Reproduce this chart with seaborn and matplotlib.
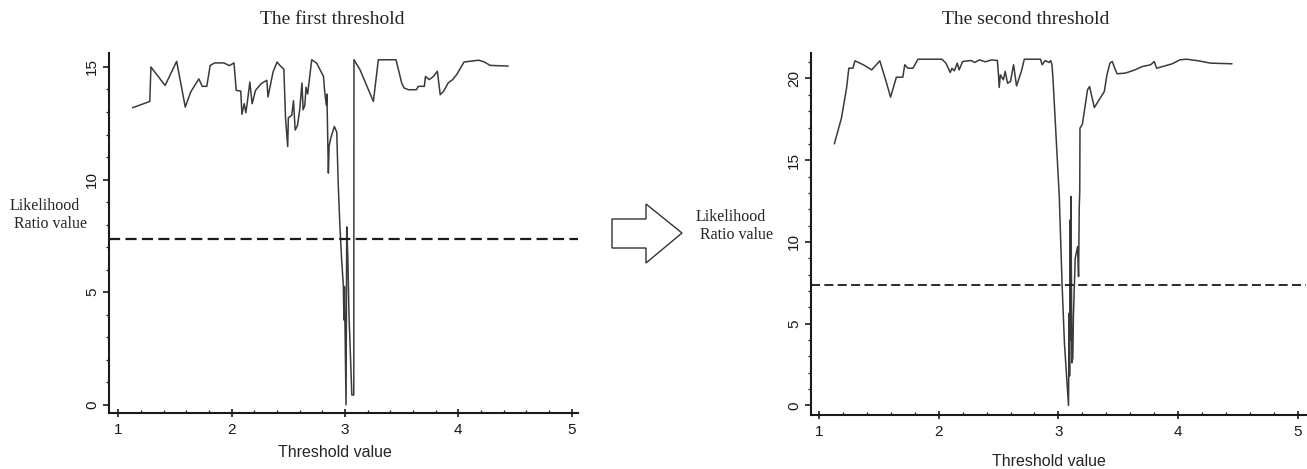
import matplotlib
matplotlib.use("Agg")
import matplotlib.pyplot as plt
from matplotlib.patches import Polygon
from matplotlib.ticker import MultipleLocator
import pandas as pd
import seaborn as sns

# --- data ---
first_x = [1.125, 1.277, 1.287, 1.412, 1.514, 1.59, 1.638, 1.71, 1.74, 1.78, 1.81, 1.85, 1.93,
           1.98, 2.02, 2.04, 2.08, 2.09, 2.11, 2.125, 2.14, 2.16, 2.18, 2.21, 2.26, 2.31, 2.32,
           2.365, 2.40, 2.425, 2.46, 2.475, 2.494, 2.50, 2.53, 2.545, 2.56, 2.58, 2.60, 2.62,
           2.63, 2.645, 2.656, 2.67, 2.706, 2.75, 2.81, 2.82, 2.835, 2.84, 2.853, 2.86, 2.874,
           2.906, 2.927, 2.94, 2.955, 2.97, 2.985, 2.99, 2.995, 3.009, 3.015, 3.025, 3.035,
           3.06, 3.077, 3.079, 3.132, 3.25, 3.294, 3.45, 3.50, 3.52, 3.56, 3.63, 3.647, 3.70,
           3.71, 3.744, 3.78, 3.815, 3.84, 3.87, 3.91, 3.95, 3.985, 4.05, 4.18, 4.23, 4.28, 4.44]
first_lr = [13.19, 13.47, 15.0, 14.18, 15.25, 13.22, 13.89, 14.47, 14.14, 14.14, 15.07, 15.18, 15.18,
            15.06, 15.18, 13.96, 13.93, 12.9, 13.37, 12.97, 13.52, 14.33, 13.37, 13.96, 14.26, 14.41, 13.67,
            14.78, 15.22, 15.07, 14.9, 12.73, 11.47, 12.75, 12.85, 13.5, 12.2, 12.4, 13.1, 14.29,
            13.1, 13.3, 14.1, 13.8, 15.32, 15.17, 14.58, 13.92, 13.3, 13.8, 10.29, 11.5, 11.84,
            12.36, 12.1, 9.8, 7.92, 6.44, 5.32, 3.77, 5.25, 0.0, 7.9, 6.5, 4.0,
            0.44, 0.44, 15.32, 14.88, 13.47, 15.32, 15.32, 14.29, 14.07, 13.99, 13.99, 14.14, 14.14,
            14.58, 14.44, 14.58, 14.81, 13.77, 13.92, 14.29, 14.44, 14.66, 15.22, 15.30, 15.22, 15.07, 15.04]

second_x = [1.128, 1.187, 1.23, 1.249, 1.283, 1.30, 1.37, 1.44, 1.508, 1.56, 1.598, 1.646, 1.70,
            1.716, 1.743, 1.785, 1.826, 2.027, 2.06, 2.096, 2.11, 2.13, 2.155, 2.17, 2.20, 2.27,
            2.30, 2.34, 2.39, 2.44, 2.49, 2.50, 2.505, 2.515, 2.54, 2.555, 2.575, 2.60, 2.625,
            2.65, 2.69, 2.715, 2.85, 2.864, 2.89, 2.92, 2.935, 2.946, 2.955, 3.007, 3.03, 3.05,
            3.084, 3.09, 3.093, 3.098, 3.102, 3.105, 3.112, 3.12, 3.125, 3.14, 3.16, 3.168, 3.174,
            3.178, 3.18, 3.20, 3.243, 3.26, 3.30, 3.33, 3.383, 3.405, 3.43, 3.45, 3.47, 3.49,
            3.56, 3.64, 3.70, 3.77, 3.80, 3.82, 3.87, 3.95, 4.015, 4.07, 4.17, 4.27, 4.45]
second_lr = [16.0, 17.57, 19.41, 20.63, 20.63, 21.08, 20.84, 20.53, 21.08, 19.82, 18.86, 20.08, 20.08,
             20.84, 20.63, 20.63, 21.18, 21.18, 20.94, 20.37, 20.63, 20.47, 20.94, 20.53, 21.04, 21.10,
             20.98, 21.14, 21.02, 21.14, 21.10, 20.12, 19.45, 20.22, 19.92, 20.43, 19.71, 19.82, 20.84,
             19.55, 20.43, 21.18, 21.18, 20.84, 21.10, 20.98, 21.10, 20.84, 19.92, 12.78, 7.49, 3.81,
             0.0, 5.65, 1.8, 11.35, 4.0, 12.78, 2.6, 2.9, 5.43, 9.0, 9.71, 7.88, 12.2,
             13.08, 16.96, 17.2, 19.31, 19.51, 18.22, 18.58, 19.2, 20.22, 20.94, 21.04, 20.63, 20.29,
             20.33, 20.53, 20.73, 20.84, 21.04, 20.63, 20.73, 20.90, 21.14, 21.18, 21.08, 20.94, 20.90]

critical_value = [7.35, 7.37]
titles = ["The first threshold", "The second threshold"]

sns.set_style("ticks")
SERIF = ["Liberation Serif", "DejaVu Serif"]
SANS = ["Liberation Sans", "DejaVu Sans"]
plt.rcParams["font.family"] = SANS

W, H = 1307, 469
fig = plt.figure(figsize=(W / 100, H / 100), dpi=100)


def px_box(x0, x1, ytop, ybot):
    return [x0 / W, 1 - ybot / H, (x1 - x0) / W, (ybot - ytop) / H]


def draw_panel(rect, xs, ys, crit, xlim, ylim, ymajor, dash_lw):
    ax = fig.add_axes(rect)
    df = pd.DataFrame({"threshold": xs, "lr": ys})
    sns.lineplot(data=df, x="threshold", y="lr", sort=False, estimator=None,
                 color="#3a3a3a", linewidth=1.1, ax=ax)
    ax.axhline(crit, color="#1a1a1a", linewidth=dash_lw, linestyle=(0, (5, 2.4)))

    ax.set_xlim(*xlim)
    ax.set_ylim(*ylim)
    ax.set_xlabel("")
    ax.set_ylabel("")
    ax.xaxis.set_major_locator(MultipleLocator(1))
    ax.xaxis.set_minor_locator(MultipleLocator(0.2))
    ax.yaxis.set_major_locator(MultipleLocator(ymajor))
    ax.yaxis.set_minor_locator(MultipleLocator(1))

    for side in ["top", "right"]:
        ax.spines[side].set_visible(False)
    for side in ["left", "bottom"]:
        ax.spines[side].set_linewidth(1.5)
        ax.spines[side].set_color("#1a1a1a")

    ax.tick_params(axis="x", which="both", bottom=True, top=False)
    ax.tick_params(axis="y", which="both", left=True, right=False)
    ax.tick_params(axis="x", which="major", direction="inout", length=6, width=1.2,
                   pad=4, labelsize=11, colors="#1a1a1a")
    ax.tick_params(axis="x", which="minor", direction="in", length=2.5, width=0.9, colors="#1a1a1a")
    ax.tick_params(axis="y", which="major", direction="out", length=4, width=1.2,
                   pad=3, labelsize=11, labelrotation=90, colors="#1a1a1a")
    ax.tick_params(axis="y", which="minor", direction="out", length=2.5, width=0.9, colors="#1a1a1a")
    for lbl in ax.get_yticklabels():
        lbl.set_va("center")
    return ax


# --- left panel: first threshold ---
draw_panel(px_box(109, 578, 53, 413), first_x, first_lr, critical_value[0],
           (0.917, 5.056), (-0.36, 15.62), 5, 1.6)

# --- right panel: second threshold ---
draw_panel(px_box(811, 1306, 53, 415), second_x, second_lr, critical_value[1],
           (0.933, 5.068), (-0.59, 21.56), 5, 1.3)

# titles and axis labels
fig.text(332 / W, 1 - 20 / H, titles[0], ha="center", va="center", fontsize=14, family=SERIF)
fig.text(1026 / W, 1 - 20 / H, titles[1], ha="center", va="center", fontsize=14, family=SERIF)
fig.text(10 / W, 1 - 215 / H, "Likelihood\n Ratio value", ha="left", va="center",
         multialignment="left", fontsize=11.5, family=SERIF, linespacing=1.15)
fig.text(696 / W, 1 - 226 / H, "Likelihood\n Ratio value", ha="left", va="center",
         multialignment="left", fontsize=11.5, family=SERIF, linespacing=1.15)
fig.text(335 / W, 1 - 452 / H, "Threshold value", ha="center", va="center", fontsize=11.5, family=SANS)
fig.text(1049 / W, 1 - 461 / H, "Threshold value", ha="center", va="center", fontsize=11.5, family=SANS)

# outlined block arrow between the two panels
arrow_px = [(612, 219), (646, 219), (646, 204), (682, 233), (646, 263), (646, 248), (612, 248)]
arrow = Polygon([(x / W, 1 - y / H) for x, y in arrow_px], closed=True,
                facecolor="white", edgecolor="#333333", linewidth=1.0,
                transform=fig.transFigure)
fig.patches.append(arrow)

fig.savefig("out.png", dpi=100)
